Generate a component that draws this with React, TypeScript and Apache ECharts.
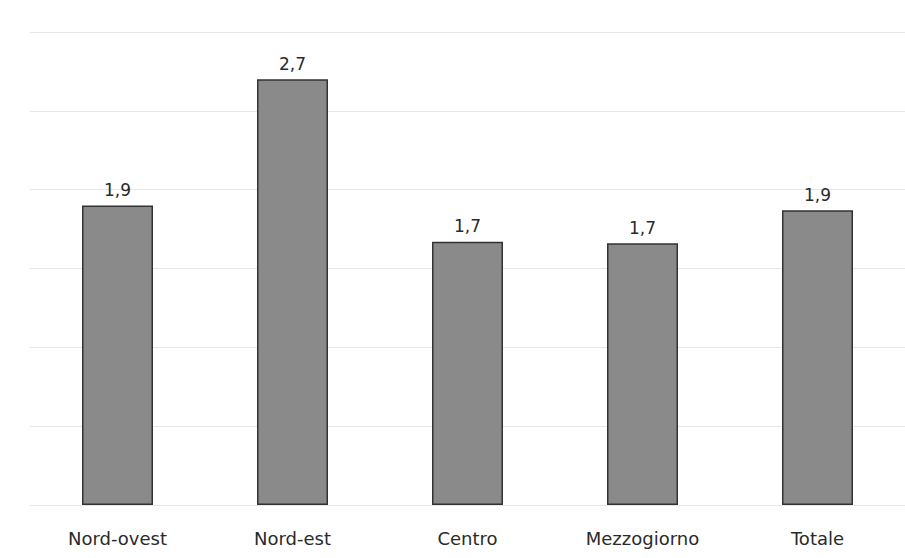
import React, { useEffect, useRef } from "react";
import * as echarts from "echarts";

const categories = ["Nord-ovest", "Nord-est", "Centro", "Mezzogiorno", "Totale"];
const values = [1.9, 2.7, 1.67, 1.66, 1.87];
const yMin = 0;
const yMax = 3;
const yInterval = 0.5;

export default function App() {
  const ref = useRef<HTMLDivElement>(null);
  useEffect(() => {
    if (!ref.current) return;
    const chart = echarts.init(ref.current, null, { renderer: "svg" });
    chart.setOption({
      animation: false,
      backgroundColor: "#ffffff",
      grid: { left: 30, top: 32, width: 879, bottom: 53 },
      xAxis: {
        type: "category",
        data: categories,
        axisLine: { show: false },
        axisTick: { show: false },
        axisLabel: {
          margin: 24,
          color: "#2a2a2a",
          fontSize: 18,
          fontFamily: "DejaVu Sans, sans-serif",
        },
      },
      yAxis: {
        type: "value",
        min: yMin,
        max: yMax,
        interval: yInterval,
        axisLabel: { show: false },
        axisLine: { show: false },
        axisTick: { show: false },
        splitLine: { lineStyle: { color: "#e6e6e6", width: 1 } },
      },
      series: [
        {
          type: "bar",
          data: values,
          barWidth: 71,
          itemStyle: { color: "#8a8a8a", borderColor: "#333333", borderWidth: 1.5 },
          label: {
            show: true,
            position: "top",
            distance: 7,
            color: "#2a2a2a",
            fontSize: 17,
            fontFamily: "DejaVu Sans, sans-serif",
            formatter: (p: any) => Number(p.value).toFixed(1).replace(".", ","),
          },
        },
      ],
    });
    return () => chart.dispose();
  }, []);
  return (
    <div
      ref={ref}
      style={{ position: "fixed", left: 0, top: 0, width: 905, height: 558 }}
    />
  );
}
